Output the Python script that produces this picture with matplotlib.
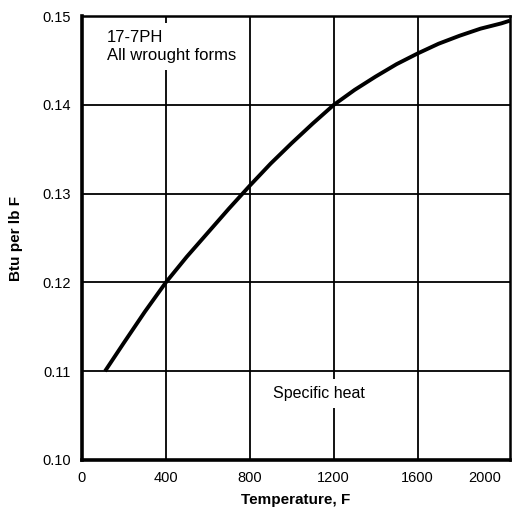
import matplotlib
matplotlib.use("Agg")
import matplotlib.pyplot as plt

# specific heat curve
temp_f = [110, 200, 300, 400, 500, 600, 700, 800, 900, 1000, 1100, 1200,
          1300, 1400, 1500, 1600, 1700, 1800, 1900, 2000, 2040]
btu_per_lb_f = [0.1100, 0.1132, 0.1167, 0.1200, 0.1229, 0.1256, 0.1283, 0.1309,
                0.1334, 0.1357, 0.1379, 0.1400, 0.1417, 0.1432, 0.1446, 0.1458,
                0.1469, 0.1478, 0.1486, 0.1492, 0.1495]

x_ticks = [0, 400, 800, 1200, 1600, 2000]
x_tick_labels = ["0", "400", "800", "1200", "1600", "2000"]
y_ticks = [0.10, 0.11, 0.12, 0.13, 0.14, 0.15]
y_tick_labels = ["0.10", "0.11", "0.12", "0.13", "0.14", "0.15"]

plt.rcParams["font.family"] = ["Liberation Sans", "DejaVu Sans"]

fig = plt.figure(figsize=(5.15, 5.19), dpi=100)
ax = fig.add_axes([0.159, 0.1137, 0.831, 0.855])

ax.set_xlim(0, 2040)
ax.set_ylim(0.10, 0.15)

for xv in x_ticks[1:-1]:
    ax.axvline(xv, color="black", lw=1.3, zorder=1)
for yv in y_ticks[1:-1]:
    ax.axhline(yv, color="black", lw=1.3, zorder=1)

ax.plot(temp_f, btu_per_lb_f, color="black", lw=2.8, solid_capstyle="butt", zorder=3)

ax.text(120, 0.1485, "17-7PH\nAll wrought forms", fontsize=12, va="top", ha="left",
        linespacing=1.3, zorder=4,
        bbox=dict(facecolor="white", edgecolor="none", pad=5))
ax.text(1130, 0.1075, "Specific heat", fontsize=11.5, va="center", ha="center", zorder=4,
        bbox=dict(facecolor="white", edgecolor="none", pad=5))

ax.set_xticks(x_ticks)
ax.set_xticklabels(x_tick_labels)
ax.get_xticklabels()[-1].set_horizontalalignment("right")
ax.get_xticklabels()[-1].set_x(2040)
ax.set_yticks(y_ticks)
ax.set_yticklabels(y_tick_labels)
ax.tick_params(length=0, labelsize=10.5, pad=8)

ax.set_xlabel("Temperature, F", fontsize=11, fontweight="bold", labelpad=6)
ax.set_ylabel("Btu per lb F", fontsize=11, fontweight="bold", labelpad=14)

for side in ["left", "bottom"]:
    ax.spines[side].set_linewidth(2.6)
for side in ["top", "right"]:
    ax.spines[side].set_linewidth(1.8)

fig.savefig("out.png", dpi=100)
